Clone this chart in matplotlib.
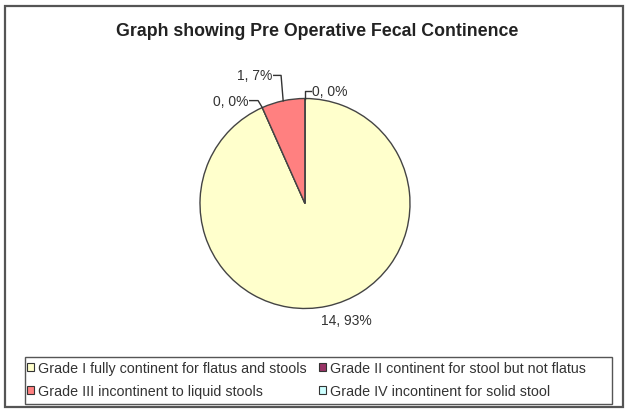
import numpy as np
import matplotlib.pyplot as plt
from matplotlib.patches import Rectangle

plt.rcParams['font.family'] = ['Liberation Sans', 'DejaVu Sans']

grades = ['Grade I fully continent for flatus and stools',
          'Grade II continent for stool but not flatus',
          'Grade III incontinent to liquid stools',
          'Grade IV incontinent for solid stool']
counts = [14, 0, 1, 0]
pcts = [93, 0, 7, 0]
colors = ['#FFFFCC', '#993366', '#FF8080', '#CCFFFF']

W, H = 625, 410
fig = plt.figure(figsize=(6.25, 4.1), dpi=100)
# pie centre ~ (305, 205) px, radius ~105 px
ax = fig.add_axes([95 / W, 48 / H, 420 / W, 315 / H])

wedges, _ = ax.pie(counts, colors=colors, startangle=90, counterclock=False,
                   wedgeprops=dict(edgecolor='#444444', linewidth=1.0))
ax.set_xlim(-2, 2)
ax.set_ylim(-1.5, 1.5)

fs = 10
tc = '#333333'
total = sum(counts)
start = 0.0
for i, c in enumerate(counts):
    mid = start + c / total * 360 / 2
    start += c / total * 360
    ang = np.deg2rad(90 - mid)
    ex, ey = np.cos(ang), np.sin(ang)
    lab = f'{c}, {pcts[i]}%'
    if i == 0:
        ax.text(0.39, -1.11, lab, ha='center', va='center', fontsize=fs, color=tc)
    elif i == 1:
        ty = 0.98
        ax.plot([ex, ex - 0.04, ex - 0.12], [ey, ty, ty], color='#333333', lw=1)
        ax.text(ex - 0.13, ty, lab, ha='right', va='center', fontsize=fs, color=tc)
    elif i == 2:
        ty = 1.22
        ax.plot([ex, ex - 0.02, ex - 0.09], [ey, ty, ty], color='#333333', lw=1)
        ax.text(ex - 0.1, ty, lab, ha='right', va='center', fontsize=fs, color=tc)
    else:
        ty = 1.07
        ax.plot([ex, ex, ex + 0.06], [ey, ty, ty], color='#333333', lw=1)
        ax.text(ex + 0.07, ty, lab, ha='left', va='center', fontsize=fs, color=tc)

fig.text(317.5 / W, 1 - 31 / H, 'Graph showing Pre Operative Fecal Continence', ha='center', va='center',
         fontsize=12.8, fontweight='bold', color='#222222')

handles = [Rectangle((0, 0), 1, 1, facecolor=c, edgecolor='#333333', lw=0.8) for c in colors]
order = [0, 2, 1, 3]  # legend fills row by row
leg = fig.legend([handles[k] for k in order], [grades[k] for k in order],
                 loc='upper left', bbox_to_anchor=(27 / W, 1 - 362 / H),
                 ncol=2, fontsize=10.3, frameon=False, labelcolor='#333333',
                 handlelength=0.5, handleheight=0.5, handletextpad=0.25, borderpad=0,
                 labelspacing=0.62, columnspacing=0.9, borderaxespad=0)

# legend frame and chart border
fig.patches.append(Rectangle((25 / W, 1 - 405 / H), 587 / W, 47 / H, transform=fig.transFigure,
                             fill=False, edgecolor='#555555', lw=1))
fig.patches.append(Rectangle((5 / W, 1 - 408 / H), 618 / W, 401 / H, transform=fig.transFigure,
                             fill=False, edgecolor='#555555', lw=1.6))

plt.savefig('out.png', dpi=100)
